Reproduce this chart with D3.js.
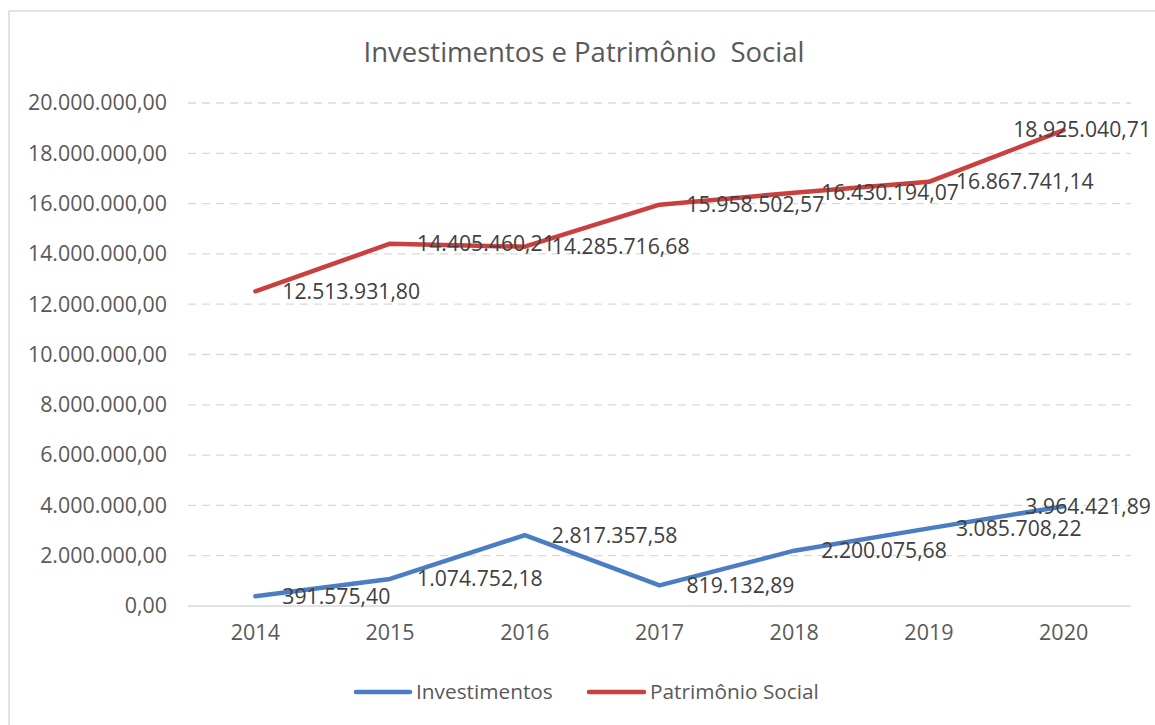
<!DOCTYPE html>
<html>
<head>
<meta charset="utf-8">
<script src="https://cdn.jsdelivr.net/npm/d3@7"></script>
<style>
  html, body { margin: 0; padding: 0; background: #fff; }
  svg { display: block; }
  text { font-family: "Open Sans", "Liberation Sans", sans-serif; }
</style>
</head>
<body>
<svg id="chart" width="1155" height="725"></svg>
<script>
const title = "Investimentos e Patrimônio  Social";
const years = ["2014", "2015", "2016", "2017", "2018", "2019", "2020"];
const investimentos = [391575.40, 1074752.18, 2817357.58, 819132.89, 2200075.68, 3085708.22, 3964421.89];
const patrimonio = [12513931.80, 14405460.21, 14285716.68, 15958502.57, 16430194.07, 16867741.14, 18925040.71];
const yTicks = [0, 2000000, 4000000, 6000000, 8000000, 10000000, 12000000, 14000000, 16000000, 18000000, 20000000];
const seriesNames = ["Investimentos", "Patrimônio Social"];
const seriesColors = ["#4A7DC4", "#C9403F"];

const svg = d3.select("#chart");
const W = 1155, H = 725;
const plot = { left: 188, right: 1131, top: 103, bottom: 606 };
const chartRight = 1151;

// chart frame
svg.append("rect").attr("x", 9).attr("y", 11).attr("width", W + 10).attr("height", H + 10)
  .attr("fill", "#fff").attr("stroke", "#D9D9D9").attr("stroke-width", 1.5);

// pt-BR number format
const ptBR = d3.formatLocale({ decimal: ",", thousands: ".", grouping: [3], currency: ["R$", ""] });
const fmt = ptBR.format(",.2f");

const x = d3.scaleBand().domain(years).range([plot.left, plot.right]);
const y = d3.scaleLinear().domain([0, 20000000]).range([plot.bottom, plot.top]);

// title
svg.append("text").attr("x", 584).attr("y", 52).attr("dy", "0.35em")
  .attr("text-anchor", "middle").attr("fill", "#595959")
  .style("font-size", "27.5px").style("white-space", "pre").text(title);

// gridlines
const grid = svg.append("g");
grid.selectAll("line").data(yTicks).join("line")
  .attr("x1", plot.left).attr("x2", plot.right)
  .attr("y1", d => y(d)).attr("y2", d => y(d))
  .attr("stroke", "#D9D9D9").attr("stroke-width", 1.3)
  .attr("stroke-dasharray", d => d === 0 ? null : "8,6");

// y axis
const yAxis = d3.axisLeft(y).tickValues(yTicks).tickFormat(fmt).tickSize(0).tickPadding(21);
const ya = svg.append("g").attr("transform", `translate(${plot.left},0)`).call(yAxis);
ya.select(".domain").remove();
ya.selectAll("text").attr("fill", "#595959").style("font-size", "21.4px").style("font-family", "\"Open Sans\", sans-serif");

// x axis
const xAxis = d3.axisBottom(x).tickSize(0).tickPadding(19);
const xa = svg.append("g").attr("transform", `translate(0,${plot.bottom})`).call(xAxis);
xa.select(".domain").remove();
xa.selectAll("text").attr("fill", "#595959").style("font-size", "21.5px").style("font-family", "\"Open Sans\", sans-serif");

const line = d3.line().x((d, i) => x(years[i]) + x.bandwidth() / 2).y(d => y(d));

const allSeries = [investimentos, patrimonio];
allSeries.forEach((vals, si) => {
  svg.append("path").datum(vals).attr("d", line)
    .attr("fill", "none").attr("stroke", seriesColors[si])
    .attr("stroke-width", 4.5).attr("stroke-linejoin", "round").attr("stroke-linecap", "round");
});

// data labels
allSeries.forEach((vals, si) => {
  vals.forEach((v, i) => {
    const px = x(years[i]) + x.bandwidth() / 2;
    const t = svg.append("text").attr("y", y(v)).attr("dy", "0.35em")
      .attr("fill", "#404040").style("font-size", "21.2px").text(fmt(v));
    const w = t.node().getComputedTextLength();
    t.attr("x", Math.min(px + 27, chartRight - w));
  });
});

// legend
const legendItems = [
  { name: seriesNames[0], color: seriesColors[0], x1: 356, x2: 410, tx: 416 },
  { name: seriesNames[1], color: seriesColors[1], x1: 589, x2: 644, tx: 650 }
];
const lg = svg.append("g");
legendItems.forEach(it => {
  lg.append("line").attr("x1", it.x1).attr("x2", it.x2).attr("y1", 692).attr("y2", 692)
    .attr("stroke", it.color).attr("stroke-width", 4.5).attr("stroke-linecap", "round");
  lg.append("text").attr("x", it.tx).attr("y", 692).attr("dy", "0.35em")
    .attr("fill", "#595959").style("font-size", "20.8px").text(it.name);
});
</script>
</body>
</html>
